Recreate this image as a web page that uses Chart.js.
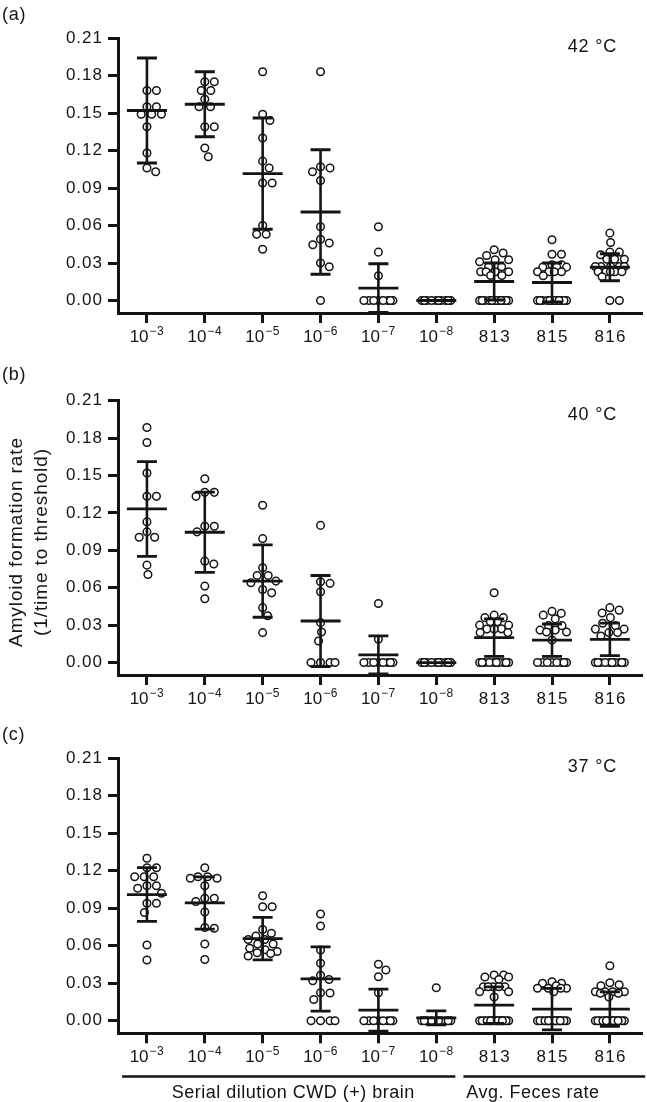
<!DOCTYPE html>
<html><head><meta charset="utf-8">
<script src="https://cdn.jsdelivr.net/npm/chart.js@4.4.1/dist/chart.umd.min.js"></script>
<style>
html,body{margin:0;padding:0;background:#fff;width:647px;height:1102px;overflow:hidden}
canvas{position:absolute;left:0}
</style></head><body>
<canvas id="ca" width="647" height="360" style="top:0px"></canvas>
<canvas id="cb" width="647" height="360" style="top:360px"></canvas>
<canvas id="cc" width="647" height="382" style="top:720px"></canvas>
<script>
// ---------- data ----------
const categoryBase = ['10','10','10','10','10','10','813','815','816'];
const categoryExp  = ['−3','−4','−5','−6','−7','−8','','',''];
const yTickValues = [0.00,0.03,0.06,0.09,0.12,0.15,0.18,0.21];
const panelLabels = ['(a)','(b)','(c)'];
const temperatures = ['42 °C','40 °C','37 °C'];
const yTitle = ['Amyloid formation rate','(1/time to threshold)'];
const groupLabels = ['Serial dilution CWD (+) brain','Avg. Feces rate'];

// panel (a) 42 °C
const pointsA = [
  [0.168,0.168,0.155,0.155,0.149,0.149,0.149,0.139,0.118,0.106,0.103],
  [0.175,0.175,0.168,0.168,0.161,0.155,0.155,0.139,0.139,0.122,0.115],
  [0.183,0.149,0.144,0.130,0.1115,0.106,0.094,0.094,0.060,0.053,0.053,0.041],
  [0.183,0.107,0.106,0.103,0.096,0.059,0.049,0.046,0.0446,0.030,0.027,0],
  [0.059,0.0387,0.0198,0,0,0,0,0,0,0,0],
  [0,0,0,0,0,0,0,0,0,0],
  [0.0406,0.038,0.036,0.0326,0.0326,0.031,0.027,0.027,0.023,0.023,0.023,0.023,0.020,0.020,0,0,0,0,0,0,0,0,0,0,0,0],
  [0.0486,0.037,0.037,0.0286,0.0286,0.0267,0.0267,0.0267,0.023,0.023,0.023,0.023,0.0198,0,0,0,0,0,0,0,0,0,0,0,0],
  [0.0539,0.0464,0.0387,0.0387,0.0366,0.033,0.033,0.033,0.0272,0.0272,0.0272,0.0272,0.0272,0.023,0.023,0.023,0.023,0.023,0.019,0,0]
];
const meanA = [0.152,0.157,0.1015,0.0708,0.0099,0,0.0152,0.0144,0.0266];
const sdA   = [0.042,0.026,0.0445,0.0498,0.0195,0,0.0148,0.0156,0.0108];

// panel (b) 40 °C
const pointsB = [
  [0.1885,0.1765,0.152,0.1333,0.1333,0.1128,0.1048,0.1005,0.1005,0.0781,0.0706],
  [0.1474,0.1365,0.1365,0.1333,0.1093,0.1093,0.1048,0.0813,0.079,0.0613,0.0512],
  [0.1261,0.0994,0.076,0.0698,0.0698,0.0653,0.064,0.0586,0.0559,0.044,0.0375,0.024],
  [0.110,0.0648,0.0635,0.0568,0.032,0.0245,0.0173,0,0,0,0],
  [0.0474,0.0186,0,0,0,0,0,0,0,0],
  [0,0,0,0,0,0,0,0,0,0],
  [0.056,0.038,0.036,0.036,0.0328,0.0328,0.030,0.030,0.027,0.0268,0.0268,0.024,0.024,0,0,0,0,0,0,0,0,0,0],
  [0.041,0.0394,0.038,0.035,0.0296,0.0296,0.026,0.026,0.0245,0.0245,0.018,0,0,0,0,0,0,0,0],
  [0.044,0.042,0.0397,0.036,0.0315,0.0296,0.0268,0.0268,0.024,0.024,0.0213,0,0,0,0,0,0,0,0,0,0]
];
const meanB = [0.1232,0.1045,0.0653,0.0333,0.0061,0,0.0200,0.0179,0.0186];
const sdB   = [0.038,0.0322,0.029,0.0365,0.0152,0,0.015,0.013,0.013];

// panel (c) 37 °C
const pointsC = [
  [0.130,0.1224,0.1224,0.1152,0.1152,0.1152,0.108,0.108,0.106,0.102,0.094,0.094,0.0867,0.0606,0.0486],
  [0.1224,0.1152,0.1152,0.114,0.114,0.108,0.098,0.098,0.0955,0.087,0.0747,0.074,0.0614,0.049],
  [0.100,0.0912,0.0912,0.0731,0.070,0.0678,0.065,0.065,0.0614,0.0614,0.058,0.0568,0.0554,0.0545,0.0538,0.0518],
  [0.0854,0.0758,0.0566,0.046,0.0364,0.033,0.032,0.0224,0.0222,0.0171,0,0,0,0],
  [0.0453,0.0406,0.0352,0.0224,0,0,0,0,0,0,0,0],
  [0.0264,0,0,0,0,0,0,0,0,0,0],
  [0.0366,0.0366,0.035,0.035,0.033,0.0272,0.0272,0.0272,0.0272,0.0272,0.0232,0.0232,0.019,0,0,0,0,0,0,0,0,0,0,0,0,0,0,0,0],
  [0.0312,0.030,0.030,0.028,0.026,0.026,0.026,0.026,0.0232,0,0,0,0,0,0,0,0,0,0,0,0,0,0,0,0],
  [0.044,0.0304,0.0288,0.028,0.0232,0.0232,0.0232,0.0232,0.022,0.022,0.019,0,0,0,0,0,0,0,0,0,0,0,0,0,0,0,0]
];
const meanC = [0.101,0.0943,0.0657,0.0335,0.0086,0.0024,0.0126,0.0094,0.0094];
const sdC   = [0.0215,0.0209,0.017,0.0257,0.0168,0.0056,0.0146,0.0166,0.0138];

// ---------- drawing ----------
const INK = '#141414';
const FONT = "'Liberation Sans', Arial, Helvetica, sans-serif";
Chart.defaults.font.family = FONT;
Chart.defaults.color = INK;

const spacingPlugin = {
  id: 'spacing',
  beforeUpdate(chart){ chart.ctx.letterSpacing = '1px'; },
  beforeLayout(chart){ chart.ctx.letterSpacing = '1px'; },
  beforeDraw(chart){ chart.ctx.letterSpacing = '1px'; }
};

const errorBarPlugin = {
  id: 'errbars',
  afterDatasetsDraw(chart, args, o) {
    const {ctx, chartArea: ca, scales: {x, y}} = chart;
    ctx.save();
    ctx.beginPath();
    ctx.rect(ca.left, ca.top - 4, ca.right - ca.left, ca.bottom - ca.top + 4);
    ctx.clip();
    ctx.strokeStyle = INK;
    ctx.lineCap = 'butt';
    o.mean.forEach((m, i) => {
      const s = o.sd[i];
      const px = x.getPixelForValue(i);
      const pm = y.getPixelForValue(m);
      const pt = y.getPixelForValue(m + s);
      const pb = y.getPixelForValue(m - s);
      if (s > 0) {
        ctx.lineWidth = 2.6;
        ctx.beginPath(); ctx.moveTo(px, pt); ctx.lineTo(px, pb); ctx.stroke();
        ctx.lineWidth = 2.8;
        ctx.beginPath();
        ctx.moveTo(px - 10, pt); ctx.lineTo(px + 10, pt);
        ctx.moveTo(px - 10, pb); ctx.lineTo(px + 10, pb);
        ctx.stroke();
      }
      ctx.lineWidth = 2.8;
      ctx.beginPath(); ctx.moveTo(px - 20, pm); ctx.lineTo(px + 20, pm); ctx.stroke();
    });
    ctx.restore();
  }
};

const decoPlugin = {
  id: 'deco',
  afterDraw(chart, args, o) {
    const {ctx, chartArea: ca, scales: {x}} = chart;
    ctx.save();
    ctx.fillStyle = INK;
    // category labels with superscript exponents
    ctx.textBaseline = 'alphabetic';
    ctx.textAlign = 'left';
    const base = ca.bottom + 29;
    categoryBase.forEach((b, i) => {
      const px = x.getPixelForValue(i);
      const e = categoryExp[i];
      ctx.font = `17px ${FONT}`;
      ctx.letterSpacing = e ? '0px' : '1.3px';
      const wb = ctx.measureText(b).width - (e ? 0 : 1.3);
      let we = 0;
      if (e) { ctx.font = `12px ${FONT}`; ctx.letterSpacing = '0.5px'; we = ctx.measureText(e).width + 1; }
      const start = px - (wb + we) / 2;
      ctx.font = `17px ${FONT}`;
      ctx.letterSpacing = e ? '0px' : '1.3px';
      ctx.fillText(b, start, base);
      if (e) {
        ctx.font = `12px ${FONT}`; ctx.letterSpacing = '0.5px';
        ctx.fillText(e, start + wb + 1, base - 7);
      }
    });
    ctx.textBaseline = 'middle';
    ctx.letterSpacing = '0.8px';
    ctx.font = `18px ${FONT}`;
    ctx.textAlign = 'left';
    ctx.fillText(o.label, 2, 15);
    ctx.textAlign = 'right';
    ctx.fillText(o.temp, 617, o.tempY);
    if (o.yTitle) {
      ctx.save();
      ctx.translate(0, o.yTitleY);
      ctx.rotate(-Math.PI / 2);
      ctx.textAlign = 'center';
      ctx.letterSpacing = '0.9px';
      ctx.font = `19px ${FONT}`;
      ctx.fillText(o.yTitle[0], 0, 17);
      ctx.fillText(o.yTitle[1], 0, 42);
      ctx.restore();
    }
    if (o.groups) {
      ctx.strokeStyle = INK;
      ctx.lineWidth = 2.5;
      ctx.font = `18px ${FONT}`;
      ctx.letterSpacing = '0.5px';
      ctx.textAlign = 'center';
      ctx.textBaseline = 'alphabetic';
      o.groups.forEach(g => {
        ctx.beginPath();
        ctx.moveTo(x.getPixelForValue(g.from), o.lineY);
        ctx.lineTo(x.getPixelForValue(g.to), o.lineY);
        ctx.stroke();
        ctx.fillText(g.text, x.getPixelForValue(g.at), o.textY);
      });
    }
    ctx.restore();
  }
};

function swarm(chart, pts) {
  const xs = chart.scales.x, ys = chart.scales.y;
  const D = 9.4, W = 14.5;
  const unit = xs.getPixelForValue(1) - xs.getPixelForValue(0);
  const out = [];
  pts.forEach((vals, ci) => {
    const order = vals.map((v, i) => i).sort((i, j) => vals[j] - vals[i]);
    const placed = [];
    const offs = new Array(vals.length);
    order.forEach(i => {
      const py = ys.getPixelForValue(vals[i]);
      let bias = 0;
      placed.forEach(q => { if (Math.abs(q.y - py) < D) bias += q.x; });
      let best = 0, bestOv = Infinity;
      for (let k = 0; k <= W * 4; k++) {
        const cands = k === 0 ? [0] : (bias > 0 ? [-k / 4, k / 4] : [k / 4, -k / 4]);
        for (const s of cands) {
          let ov = 0;
          for (const q of placed) {
            const d = Math.hypot(s - q.x, py - q.y);
            if (D - d > ov) ov = D - d;
          }
          if (ov < bestOv - 1e-6) { bestOv = ov; best = s; }
        }
      }
      placed.push({x: best, y: py});
      offs[i] = best;
    });
    vals.forEach((v, i) => out.push({x: ci + offs[i] / unit, y: v}));
  });
  return out;
}

function makePanel(id, pts, mean, sd, idx, cfg) {
  const chart = new Chart(document.getElementById(id), {
    type: 'scatter',
    data: { datasets: [{
      data: pts.flatMap((vals, ci) => vals.map(v => ({x: ci, y: v}))),
      pointRadius: 3.8, pointHoverRadius: 3.8,
      borderWidth: 1.5, borderColor: INK, backgroundColor: '#fff',
      pointStyle: 'circle', clip: false
    }]},
    options: {
      responsive: false, animation: false, events: [],
      devicePixelRatio: 1,
      layout: { padding: { top: cfg.top, right: 5, bottom: 0, left: 0 } },
      plugins: {
        legend: { display: false }, tooltip: { enabled: false },
        errbars: { mean, sd },
        deco: {
          label: panelLabels[idx], temp: temperatures[idx], tempY: cfg.tempY,
          yTitle: cfg.yTitle, yTitleY: cfg.yTitleY,
          groups: cfg.groups, lineY: cfg.lineY, textY: cfg.textY
        }
      },
      scales: {
        x: {
          type: 'linear', min: -0.5, max: 8.55,
          afterBuildTicks: s => { s.ticks = categoryBase.map((c, i) => ({value: i})); },
          afterFit: s => { s.height = cfg.xh; },
          ticks: { display: false, callback: (v, i) => categoryBase[i] + categoryExp[i] },
          grid: { display: true, drawOnChartArea: false, drawTicks: true,
                  tickLength: 10, tickWidth: 3, tickColor: INK, color: INK, lineWidth: 3 },
          border: { display: true, color: INK, width: 3 }
        },
        y: {
          type: 'linear', min: -0.01, max: 0.21,
          afterBuildTicks: s => { s.ticks = yTickValues.map(v => ({value: v})); },
          afterFit: s => { s.width = 118; },
          ticks: { callback: v => v.toFixed(2), padding: 5, color: INK, font: { size: 17 } },
          grid: { display: true, drawOnChartArea: false, drawTicks: true,
                  tickLength: 10, tickWidth: 3, tickColor: INK, color: INK, lineWidth: 3 },
          border: { display: true, color: INK, width: 3 }
        }
      }
    },
    plugins: [spacingPlugin, errorBarPlugin, decoPlugin]
  });
  chart.data.datasets[0].data = swarm(chart, pts);
  chart.update('none');
  return chart;
}

makePanel('ca', pointsA, meanA, sdA, 0, { top: 38, xh: 47, tempY: 47 });
makePanel('cb', pointsB, meanB, sdB, 1, { top: 40.7, xh: 45, tempY: 55,
  yTitle: yTitle, yTitleY: 182 });
makePanel('cc', pointsC, meanC, sdC, 2, { top: 38.3, xh: 68.7, tempY: 47,
  groups: [
    {from: -0.43, to: 5.33, at: 2.53, text: groupLabels[0]},
    {from: 5.47, to: 8.61, at: 6.67, text: groupLabels[1]}
  ], lineY: 356.5, textY: 378 });
</script>
</body></html>
